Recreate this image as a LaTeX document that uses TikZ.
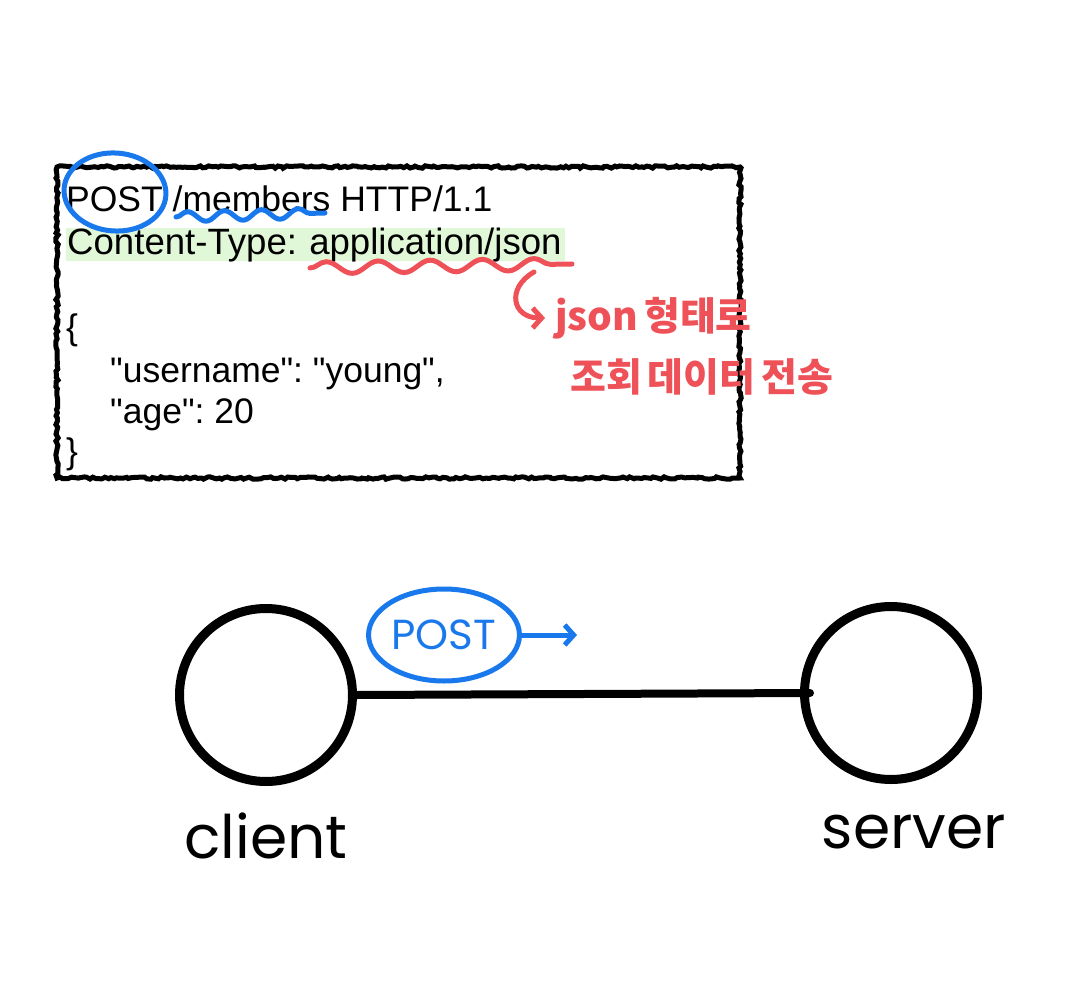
\documentclass[tikz,border=0pt]{standalone}
\usepackage{fontspec}
\setmainfont{Liberation Sans}[Ligatures=TeXOff]
\newfontfamily\handfont{Poppins}
\newfontfamily\korfont{Noto Sans CJK KR}
\usetikzlibrary{positioning}
\usetikzlibrary{arrows.meta}
\usetikzlibrary{shapes.geometric}
\usetikzlibrary{decorations.pathmorphing}
\definecolor{penblue}{RGB}{25,120,235}
\definecolor{penred}{RGB}{238,82,88}
\definecolor{codegreen}{RGB}{224,248,216}
\frenchspacing
\newcommand\notefont{\korfont\bfseries\fontsize{39}{39}\selectfont\spaceskip=6pt plus 0pt\relax}
\tikzset{%
	% Specifications for style of nodes:
	code/.style = {anchor=base west, inner sep=0pt, font=\fontsize{35.5}{42}\selectfont},
	sketchbox/.style = {draw=black, line width=5pt, decorate, decoration={random steps, segment length=3pt, amplitude=1.2pt}},
	station/.style = {circle, draw=black, line width=9pt, minimum size=173pt},
	hand/.style = {font=\handfont\fontsize{60}{60}\selectfont, inner sep=0pt},
	note/.style = {font=\notefont, text=penred, inner sep=0pt, anchor=west},
	bluepen/.style = {draw=penblue, line width=5pt, line cap=round},
	redpen/.style = {draw=penred, line width=5pt, line cap=round},
	barb/.style = {-{Straight Barb[length=9pt,width=20pt]}},
}

\begin{document}
\begin{tikzpicture}[x=1pt,y=-1pt]
		\useasboundingbox (0,0) rectangle (1087,1000);
		
		% request message
		\node (request) [sketchbox, minimum width=683pt, minimum height=311pt] at (398.5,322.5) {};
		\node (reqline) [code] at (66,212) {POST /members HTTP/1.1};
		\node (ctype) [code, font=\fontsize{36.6}{42}\selectfont, fill=codegreen, inner xsep=1pt, text width=497pt, align=left, text height=27pt, text depth=6pt] at (66,255) {Content-Type: application/json};
		\node (bodyopen) [code] at (66,340) {\{};
		\node (username) [code] at (110,382) {"username": "young",};
		\node (age) [code] at (110,423) {"age": 20};
		\node (bodyclose) [code] at (66,463) {\}};
		
		% marks on the message
		\node (postring) [ellipse, draw=penblue, line width=5pt, minimum width=102pt, minimum height=78pt, rotate=-4] at (115,192) {};
		\draw [bluepen, decorate, decoration={snake, segment length=37pt, amplitude=5pt}] (176,217) -- (325,213);
		\draw [redpen, decorate, decoration={snake, segment length=52pt, amplitude=6pt}] (310,268) -- (572,264);
		
		\node (note1) [note] at (555,318) {json 형태로};
		\node (note2) [note] at (570,377) {조회 데이터 전송};
		\coordinate (hook) at (534,272);
		\draw [redpen, barb] (hook) .. controls (506,288) and (512,318) .. ([xshift=-10pt]note1.west);
		
		% client and server
		\node (client) [station] at (266,695) {};
		\node (server) [station] at (891,693) {};
		\node (clientlabel) [hand, below=27pt of client] {client};
		\node (serverlabel) [hand, below=31pt of server, xshift=23pt] {server};
		
		\draw [line width=8pt, line cap=round] (client.east) -- ([xshift=10pt]server.west);
		
		\node (posttag) [ellipse, draw=penblue, line width=5pt, minimum width=128pt, minimum height=92pt, inner sep=1pt, text=penblue, font=\handfont\fontsize{42}{42}\selectfont] at (444,635) {POST};
		\coordinate (postdir) at (577,0);
		\draw [bluepen, barb] (posttag.east) -- (posttag.east -| postdir);
		
     \end{tikzpicture}
\end{document}
